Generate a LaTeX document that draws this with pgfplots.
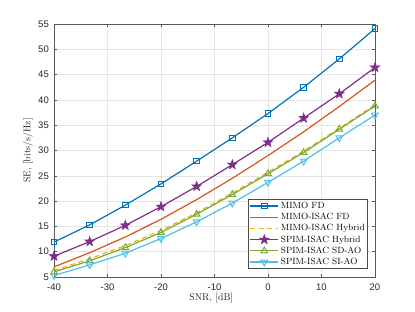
\documentclass[border=0pt]{standalone}
\usepackage{fontspec}
\usepackage{pgfplots}
\pgfplotsset{compat=1.18}
\newfontfamily\ticksans{Liberation Sans}
\definecolor{mblue}{rgb}{0,0.447,0.741}
\definecolor{morange}{rgb}{0.85,0.325,0.098}
\definecolor{myellow}{rgb}{0.929,0.694,0.125}
\definecolor{mpurple}{rgb}{0.494,0.184,0.556}
\definecolor{mgreen}{rgb}{0.466,0.674,0.188}
\definecolor{mcyan}{rgb}{0.301,0.745,0.933}
\definecolor{axgray}{rgb}{0.15,0.15,0.15}
\pgfdeclareplotmark{pentagram}{%
  \pgfpathmoveto{\pgfpointpolar{90}{\pgfplotmarksize}}%
  \pgfpathlineto{\pgfpointpolar{126}{0.4*\pgfplotmarksize}}%
  \pgfpathlineto{\pgfpointpolar{162}{\pgfplotmarksize}}%
  \pgfpathlineto{\pgfpointpolar{198}{0.4*\pgfplotmarksize}}%
  \pgfpathlineto{\pgfpointpolar{234}{\pgfplotmarksize}}%
  \pgfpathlineto{\pgfpointpolar{270}{0.4*\pgfplotmarksize}}%
  \pgfpathlineto{\pgfpointpolar{306}{\pgfplotmarksize}}%
  \pgfpathlineto{\pgfpointpolar{342}{0.4*\pgfplotmarksize}}%
  \pgfpathlineto{\pgfpointpolar{18}{\pgfplotmarksize}}%
  \pgfpathlineto{\pgfpointpolar{54}{0.4*\pgfplotmarksize}}%
  \pgfpathclose
  \pgfusepathqfillstroke}
\begin{document}
\begin{tikzpicture}
\useasboundingbox (-54pt,-35pt) rectangle (361pt,277pt);
\begin{axis}[
  at={(0,0)}, anchor=south west,
  scale only axis, width=321pt, height=253pt,
  xmin=-40, xmax=20, ymin=5, ymax=55,
  xtick={-40,-30,-20,-10,0,10,20},
  xticklabels={-40,-30,-20,-10,0,10,20},
  ytick={5,10,...,55},
  yticklabels={5,10,15,20,25,30,35,40,45,50,55},
  tick label style={font=\ticksans\fontsize{9.5}{11}\selectfont, text=axgray},
  xticklabel style={inner sep=0pt, yshift=-6.8pt},
  yticklabel style={inner sep=0pt, xshift=-5pt},
  grid=major,
  major grid style={draw=black!10, line width=0.4pt},
  axis line style={draw=black!65, line width=0.5pt},
  tick style={draw=black!65, line width=0.5pt},
  tick align=inside, major tick length=3pt,
  xtick pos=both, ytick pos=both,
  xlabel={SNR, [dB]}, ylabel={SE, [bits/s/Hz]},
  label style={font=\fontsize{9.8}{11}\selectfont, text=axgray, inner sep=0pt},
  xlabel style={at={(axis description cs:0.49,-0.082)}, anchor=center},
  ylabel style={at={(axis description cs:-0.081,0.5)}, anchor=center, rotate=0},
  legend style={at={(0.978,0.032)}, anchor=south east, draw=black!70, fill=white, line width=0.5pt,
    font=\fontsize{9}{10}\selectfont, inner xsep=1pt, inner ysep=1.5pt, row sep=1pt,
    nodes={inner ysep=1pt, text height=6.6pt, text depth=1.6pt},
    cells={anchor=west}},
  legend image code/.code={\draw[mark repeat=2,mark phase=2] plot coordinates {(0pt,0pt) (14pt,0pt) (28pt,0pt)};},
  every axis plot/.append style={line width=1.2pt},
]
\addplot[color=mblue, mark=square, mark size=2.8pt, mark options={solid, line width=1pt}] coordinates {
(-40,11.9) (-33.33,15.3) (-26.67,19.2) (-20,23.4) (-13.33,27.9) (-6.67,32.5) (0,37.3) (6.67,42.5) (13.33,48.1) (20,54.1)};
\addlegendentry{MIMO FD}
\addplot[color=morange] coordinates {
(-40,7.0) (-33.33,9.8) (-26.67,12.9) (-20,16.4) (-13.33,20.3) (-6.67,24.5) (0,29.0) (6.67,33.7) (13.33,38.7) (20,43.9)};
\addlegendentry{MIMO-ISAC FD}
\addplot[color=myellow, dash pattern=on 5pt off 3.5pt] coordinates {
(-40,6.3) (-33.33,8.6) (-26.67,11.2) (-20,14.2) (-13.33,17.7) (-6.67,21.6) (0,25.7) (6.67,29.9) (13.33,34.4) (20,39.0)};
\addlegendentry{MIMO-ISAC Hybrid}
\addplot[color=mpurple, mark=pentagram, mark size=5pt, mark options={solid, fill=mpurple, line width=0.6pt}] coordinates {
(-40,9.1) (-33.33,12.0) (-26.67,15.2) (-20,18.9) (-13.33,22.9) (-6.67,27.2) (0,31.6) (6.67,36.4) (13.33,41.2) (20,46.4)};
\addlegendentry{SPIM-ISAC Hybrid}
\addplot[color=mgreen, mark=triangle, mark size=3.8pt, mark options={solid, line width=1pt}] coordinates {
(-40,6.0) (-33.33,8.2) (-26.67,10.8) (-20,13.8) (-13.33,17.4) (-6.67,21.3) (0,25.4) (6.67,29.6) (13.33,34.2) (20,38.8)};
\addlegendentry{SPIM-ISAC SD-AO}
\addplot[color=mcyan, mark=triangle, mark size=3.8pt, mark options={solid, rotate=180, line width=1pt}] coordinates {
(-40,5.3) (-33.33,7.4) (-26.67,9.7) (-20,12.6) (-13.33,15.9) (-6.67,19.6) (0,23.7) (6.67,27.9) (13.33,32.5) (20,37.0)};
\addlegendentry{SPIM-ISAC SI-AO}
\end{axis}
\end{tikzpicture}
\end{document}
